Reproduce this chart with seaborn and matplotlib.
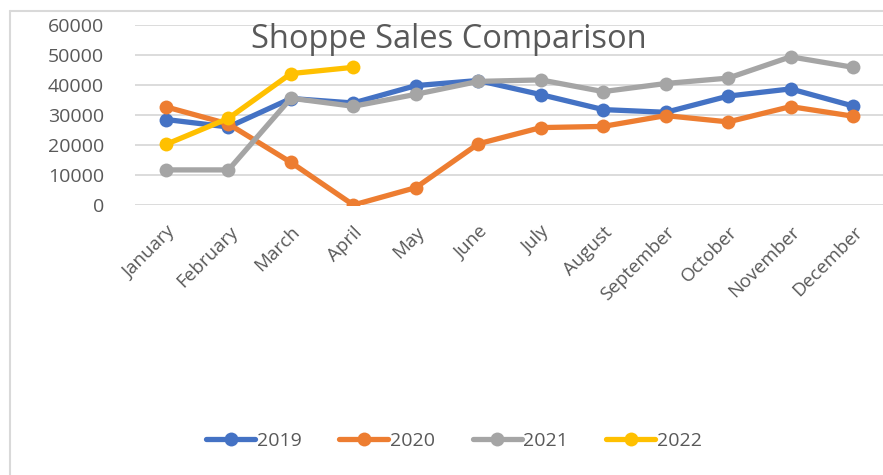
import numpy as np
import pandas as pd
import seaborn as sns
import matplotlib.pyplot as plt
from matplotlib.lines import Line2D

months = ['January', 'February', 'March', 'April', 'May', 'June', 'July',
          'August', 'September', 'October', 'November', 'December']
sales_2019 = [28500, 26000, 35500, 34000, 39800, 41500, 36800, 31800, 30900, 36300, 38700, 33000]
sales_2020 = [32700, 27000, 14200, 0, 5800, 20400, 25800, 26200, 29800, 27700, 32800, 29600]
sales_2021 = [11700, 11700, 35600, 32900, 36900, 41200, 41700, 37800, 40500, 42300, 49400, 45900]
sales_2022 = [20200, 28900, 43800, 45900]

years = ['2019', '2020', '2021', '2022']
colors = ['#4472C4', '#ED7D31', '#A5A5A5', '#FFC000']

# long-form table for seaborn
rows = []
for yr, vals in zip(years, [sales_2019, sales_2020, sales_2021, sales_2022]):
    for i, v in enumerate(vals):
        rows.append({'month': i, 'year': yr, 'sales': v})
df = pd.DataFrame(rows)

sns.set_theme(style='white')
plt.rcParams['font.family'] = ['Open Sans', 'DejaVu Sans']
text_color = '#595959'

fig = plt.figure(figsize=(8.83, 4.75), dpi=100, facecolor='white')
ax = fig.add_axes([134.8 / 883, 1 - 205 / 475, 749.5 / 883, 180 / 475])

for yr, c in zip(years, colors):
    sub = df[df['year'] == yr]
    sns.lineplot(data=sub, x='month', y='sales', color=c, lw=3.8, marker='o',
                 markersize=10, markeredgewidth=0, ax=ax, legend=False, zorder=3)

ax.set_xlim(-0.5, 11.5)
ax.set_ylim(0, 60000)
ax.set_yticks(np.arange(0, 60001, 10000))
ax.set_yticklabels([str(v) for v in range(0, 60001, 10000)], fontsize=14, color=text_color)
ax.set_xticks(range(12))
ax.set_xticklabels(months, rotation=45, ha='right', rotation_mode='anchor',
                   fontsize=13.5, color=text_color)
ax.tick_params(axis='x', length=0, pad=13)
ax.tick_params(axis='y', length=0, pad=22)
ax.yaxis.grid(True, color='#D9D9D9', lw=1.3)
ax.set_axisbelow(True)
for s in ax.spines.values():
    s.set_visible(False)
ax.set_xlabel('')
ax.set_ylabel('')

fig.text(449 / 883, 1 - 40 / 475, 'Shoppe Sales Comparison', ha='center', va='center',
         fontsize=23.5, color=text_color)

# outer chart border (left and top visible)
fig.add_artist(Line2D([10 / 883, 10 / 883], [0, 1 - 11 / 475], color='#D9D9D9', lw=1.5))
fig.add_artist(Line2D([10 / 883, 1], [1 - 11 / 475, 1 - 11 / 475], color='#D9D9D9', lw=1.5))

handles = [Line2D([0], [0], color=c, lw=3.8, marker='o', markersize=10, markeredgewidth=0)
           for c in colors]
leg = fig.legend(handles, years, loc='center', bbox_to_anchor=(454 / 883, 1 - 441 / 475),
                 ncol=4, frameon=False, fontsize=14, handlelength=2.5, handletextpad=0.1,
                 columnspacing=1.95)
for t in leg.get_texts():
    t.set_color(text_color)

fig.savefig('out.png', dpi=100, facecolor='white')
